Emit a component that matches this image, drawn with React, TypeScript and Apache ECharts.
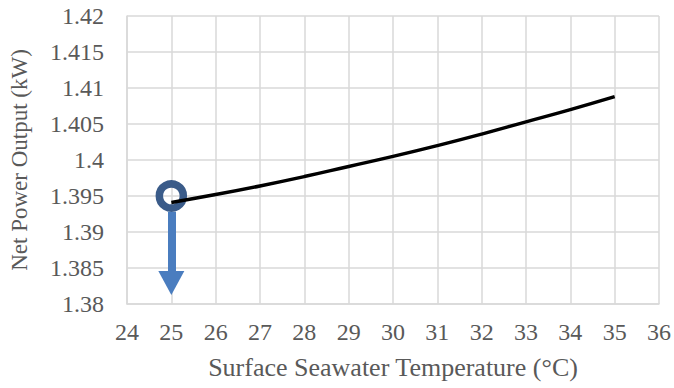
import React, { useEffect, useRef } from "react";
import * as echarts from "echarts";

const temperatures = [25, 26, 27, 28, 29, 30, 31, 32, 33, 34, 35];
const netPower = [1.3941, 1.3952, 1.3964, 1.3977, 1.3991, 1.4005, 1.402, 1.4036, 1.4053, 1.407, 1.4088];
const highlightPoint = [25, 1.395];
const arrowStart = [25, 1.3928];
const arrowEnd = [25, 1.3829];

export default function App() {
  const ref = useRef<HTMLDivElement>(null);
  useEffect(() => {
    document.body.style.margin = "0";
    const chart = echarts.init(ref.current!, null, { renderer: "svg" });
    const font = "Liberation Serif";
    const textColor = "#595959";
    const labelRich = { t: { fontFamily: font, fontSize: 24, color: textColor } };
    chart.setOption({
      animation: false,
      backgroundColor: "#ffffff",
      textStyle: { fontFamily: font },
      grid: { left: 126, right: 13, top: 16, bottom: 84 },
      xAxis: {
        type: "value",
        min: 24,
        max: 36,
        interval: 1,
        name: "Surface Seawater Temperature (°C)",
        nameLocation: "middle",
        nameGap: 50,
        nameTextStyle: { fontFamily: font, fontSize: 26, color: textColor },
        axisLine: { show: true, lineStyle: { color: "#d9d9d9", width: 1.5 } },
        axisTick: { show: false },
        axisLabel: {
          fontFamily: font,
          fontSize: 24,
          color: textColor,
          margin: 16,
          formatter: (v: number) => "{t|" + v + "}",
          rich: labelRich,
        },
        splitLine: { show: true, lineStyle: { color: "#d9d9d9", width: 1.5 } },
      },
      yAxis: {
        type: "value",
        min: 1.38,
        max: 1.42,
        interval: 0.005,
        name: "Net Power Output (kW)",
        nameLocation: "middle",
        nameGap: 96,
        nameTextStyle: { fontFamily: font, fontSize: 23, color: textColor },
        axisLine: { show: true, lineStyle: { color: "#d9d9d9", width: 1.5 } },
        axisTick: { show: false },
        axisLabel: {
          fontFamily: font,
          fontSize: 24,
          color: textColor,
          margin: 23,
          formatter: (v: number) => "{t|" + String(+v.toFixed(3)) + "}",
          rich: labelRich,
        },
        splitLine: { show: true, lineStyle: { color: "#d9d9d9", width: 1.5 } },
      },
      series: [
        {
          type: "scatter",
          data: [highlightPoint],
          symbol: "circle",
          symbolSize: 24,
          z: 2,
          itemStyle: { color: "rgba(0,0,0,0)", borderColor: "#3A5B89", borderWidth: 7.5, opacity: 1 },
          silent: true,
        },
        {
          type: "line",
          data: [],
          z: 2,
          markLine: {
            silent: true,
            symbol: ["none", "triangle"],
            symbolSize: [26, 24],
            label: { show: false },
            lineStyle: { color: "#4A7DBF", width: 8, type: "solid", opacity: 1 },
            data: [[{ coord: arrowStart }, { coord: arrowEnd }]],
          },
        },
        {
          type: "line",
          data: temperatures.map((t, i) => [t, netPower[i]]),
          smooth: true,
          showSymbol: false,
          z: 5,
          lineStyle: { color: "#000000", width: 3.5 },
        },
      ],
    });
    return () => chart.dispose();
  }, []);
  return <div ref={ref} style={{ width: 674, height: 388 }} />;
}
